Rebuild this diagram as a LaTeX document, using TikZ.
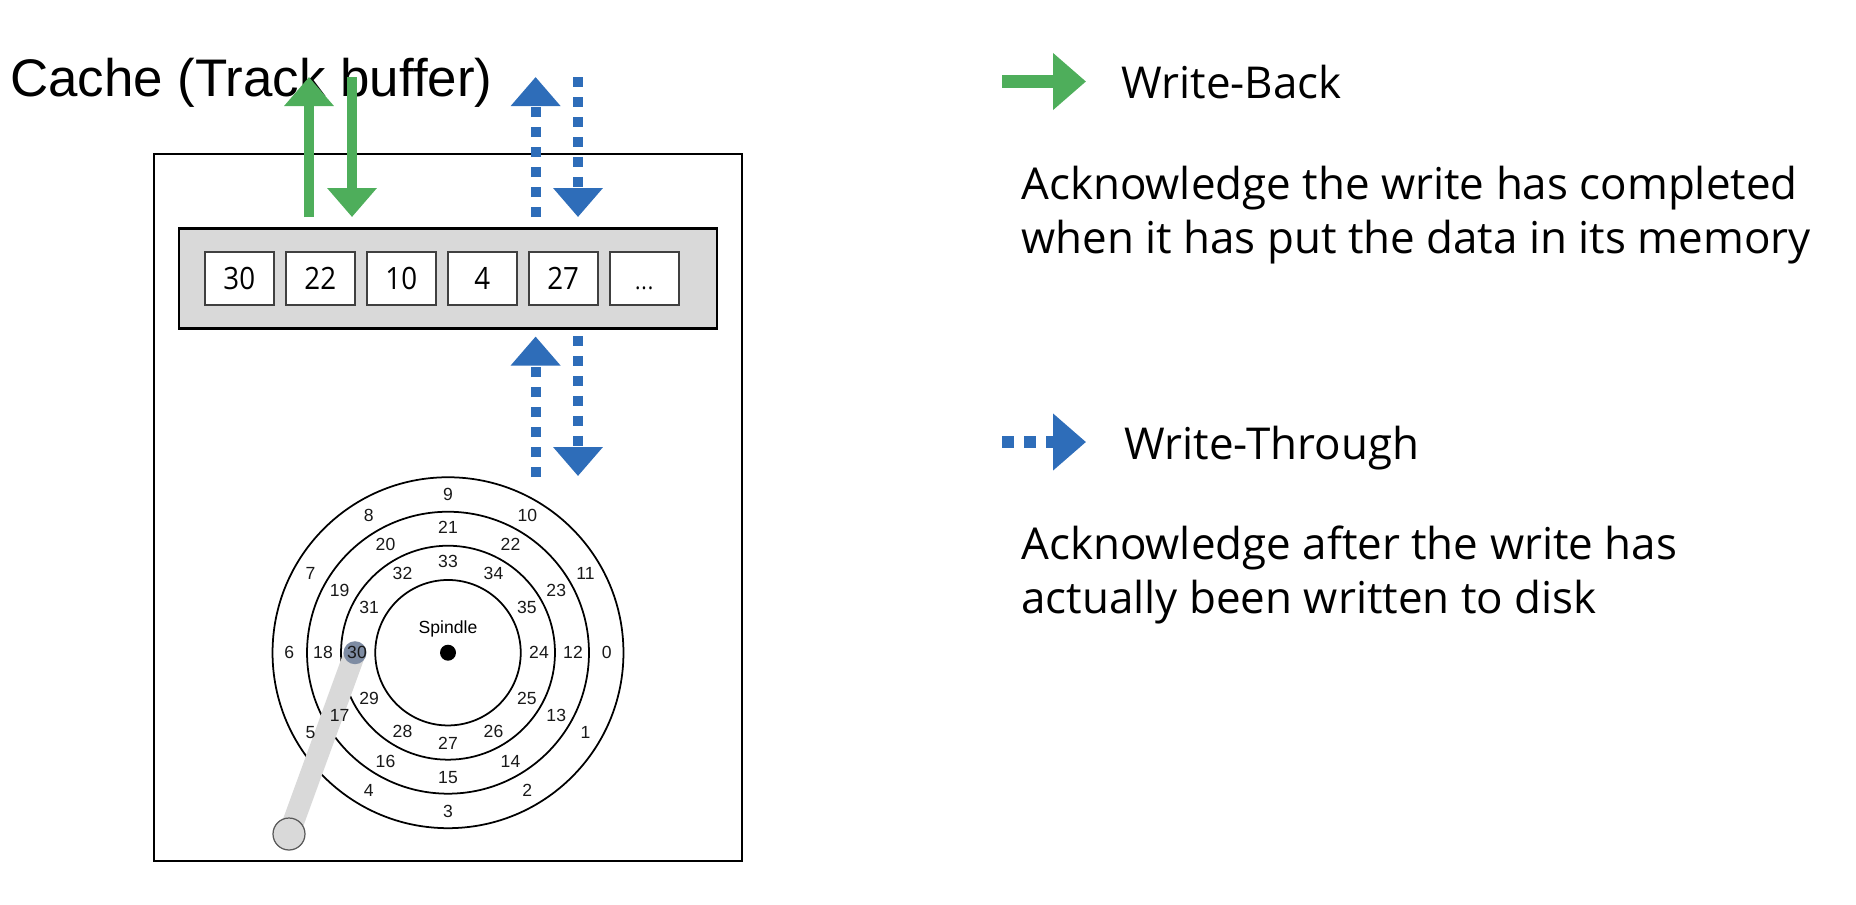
\documentclass[tikz,border=0pt]{standalone}
\usepackage{xcolor}
\usepackage{fontspec}
\setmainfont{Liberation Sans}
\newfontfamily\legendfont{Open Sans}
\newfontfamily\cellfont[FakeStretch=0.9]{Open Sans}
\usetikzlibrary{arrows.meta, positioning, calc}
\definecolor{mygreen}{RGB}{78,174,91}
\definecolor{myblue}{RGB}{46,109,185}
\definecolor{mygray}{RGB}{217,217,217}
\definecolor{myhead}{RGB}{126,140,163}
\tikzset{
  outerbox/.style={rectangle, draw=black, fill=white, line width=1.5pt,
    minimum width=11.76cm, minimum height=14.14cm, inner sep=0pt},
  bufferbox/.style={rectangle, draw=black, fill=mygray, line width=1.6pt,
    minimum width=10.76cm, minimum height=2cm, inner sep=0pt},
  cellbox/.style={rectangle, draw=black!75, fill=white, line width=0.9pt,
    minimum width=1.38cm, minimum height=1.07cm, inner sep=0pt, outer sep=0pt,
    font=\cellfont\fontsize{17.5}{20}\selectfont},
  ring/.style={circle, draw=black, line width=1pt, inner sep=0pt},
  tracklabel/.style={font=\fontsize{10}{11}\selectfont, inner sep=0pt, text=black!90},
  legendtext/.style={font=\legendfont\fontsize{25}{30.6}\selectfont, align=left,
    anchor=west, inner sep=0pt},
  wbarrow/.style={-{Triangle[length=0.58cm, width=0.96cm]}, line width=0.2cm, color=mygreen},
  wtarrow/.style={-{Triangle[length=0.58cm, width=0.96cm]}, line width=0.2cm, color=myblue,
    dash pattern=on 0.2cm off 0.2cm},
  wbkey/.style={-{Triangle[length=0.66cm, width=1.1cm]}, line width=0.25cm, color=mygreen},
  wtkey/.style={-{Triangle[length=0.66cm, width=1.1cm]}, line width=0.25cm, color=myblue,
    dash pattern=on 0.24cm off 0.2cm}
}
\begin{document}
\begin{tikzpicture}[x=0.02cm, y=-0.02cm]
  \useasboundingbox (0,0) rectangle (1856,904);

  % Title
  \node[anchor=west, inner sep=0pt, font=\fontsize{30.1}{32}\selectfont] (title) at (10,83) {Cache (Track buffer)};

  % Drive case and track buffer
  \node[outerbox] (drive) at (448,507.5) {};
  \node[bufferbox] (buffer) at (448,278.5) {};
  \node[cellbox] (c30) at (239.3,278.5) {30};
  \node[cellbox, right=0.24cm of c30] (c22) {22};
  \node[cellbox, right=0.24cm of c22] (c10) {10};
  \node[cellbox, right=0.24cm of c10] (c4) {4};
  \node[cellbox, right=0.24cm of c4] (c27) {27};
  \node[cellbox, right=0.24cm of c27] (cdots) {\vphantom{27}\fontsize{13}{15}\selectfont .\kern0.5pt.\kern0.5pt.};

  % Disk
  \coordinate (disk) at (448,652.7);
  \node[ring, minimum size=7.02cm] (r1) at (disk) {};
  \node[ring, minimum size=5.64cm] (r2) at (disk) {};
  \node[ring, minimum size=4.28cm] (r3) at (disk) {};
  \node[ring, minimum size=2.91cm] (r4) at (disk) {};
  \node[circle, fill=black, minimum size=0.32cm, inner sep=0pt] (spindle) at (disk) {};
  \node[font=\fontsize{10}{12}\selectfont, inner sep=0pt, above=0.14cm of spindle] (spindlelabel) {Spindle};

  % Arm
  \coordinate (pivotpt) at (289,834);
  \coordinate (headpt) at (355,652.7);
  \draw[color=mygray, line width=0.43cm] (pivotpt) -- (headpt);
  \node[circle, fill=mygray, draw=black!65, line width=0.7pt, minimum size=0.64cm, inner sep=0pt] (pivot) at (pivotpt) {};
  \node[circle, fill=myhead, minimum size=0.46cm, inner sep=0pt] (head) at (headpt) {};

  % Track numbers
  \foreach \i in {0,...,11} {
    \pgfmathtruncatemacro{\midn}{\i+12}
    \pgfmathtruncatemacro{\inn}{\i+24}
    \node[tracklabel] (t\i) at ($(disk)+(\i*30:158.7)$) {\i};
    \node[tracklabel] (t\midn) at ($(disk)+(\i*30:125)$) {\midn};
    \node[tracklabel] (t\inn) at ($(disk)+(\i*30:91)$) {\inn};
  }

  % Write-back arrows
  \coordinate (wbupa) at (309,217);
  \coordinate (wbupb) at (309,77);
  \coordinate (wbdna) at (352,77);
  \coordinate (wbdnb) at (352,217);
  \draw[wbarrow] (wbupa) -- (wbupb);
  \draw[wbarrow] (wbdna) -- (wbdnb);

  % Write-through arrows
  \coordinate (wtupa) at (535.6,217);
  \coordinate (wtupb) at (535.6,77);
  \coordinate (wtdna) at (578,77);
  \coordinate (wtdnb) at (578,217);
  \coordinate (lowupa) at (535.6,477);
  \coordinate (lowupb) at (535.6,336.5);
  \coordinate (lowdna) at (578,336);
  \coordinate (lowdnb) at (578,476);
  \draw[wtarrow] (wtupa) -- (wtupb);
  \draw[wtarrow] (wtdna) -- (wtdnb);
  \draw[wtarrow] (lowupa) -- (lowupb);
  \draw[wtarrow] (lowdna) -- (lowdnb);

  % Legend (Right side)
  \coordinate (wbkeya) at (1002,81.5);
  \coordinate (wbkeyb) at (1086,81.5);
  \coordinate (wtkeya) at (1002,442);
  \coordinate (wtkeyb) at (1086,442);
  \draw[wbkey] (wbkeya) -- (wbkeyb);
  \draw[wtkey] (wtkeya) -- (wtkeyb);
  \node[legendtext] (wblabel) at (1121,82) {Write-Back};
  \node[legendtext] (wbtext) at (1021,215) {Acknowledge the write has completed\\when it has put the data in its memory};
  \node[legendtext] (wtlabel) at (1124,448) {Write-Through};
  \node[legendtext] (wttext) at (1021,575) {Acknowledge after the write has\\actually been written to disk};
\end{tikzpicture}
\end{document}
